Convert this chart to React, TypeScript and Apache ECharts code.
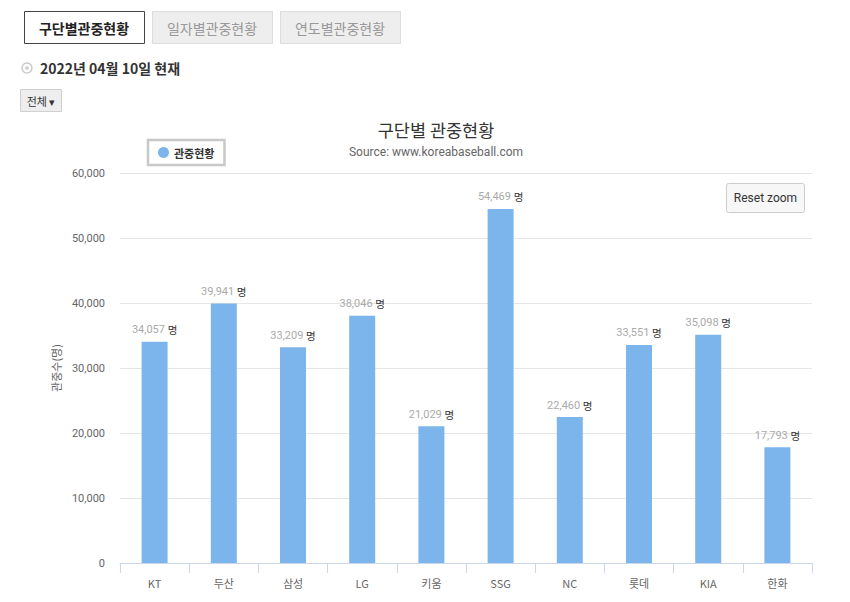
import React, { useEffect, useRef } from "react";
import * as echarts from "echarts";

const categories = ["KT", "두산", "삼성", "LG", "키움", "SSG", "NC", "롯데", "KIA", "한화"];
const attendance = [34057, 39941, 33209, 38046, 21029, 54469, 22460, 33551, 35098, 17793];
const yTicks = [0, 10000, 20000, 30000, 40000, 50000, 60000];
const tabs = ["구단별관중현황", "일자별관중현황", "연도별관중현황"];

const FONT = "'Noto Sans CJK KR', Roboto, sans-serif";

export default function App() {
  const ref = useRef<HTMLDivElement>(null);
  useEffect(() => {
    if (!ref.current) return;
    const chart = echarts.init(ref.current, undefined, { renderer: "svg" });
    const tabGraphics: any[] = tabs.map((t, i) => {
      const x = 24 + i * 128;
      const active = i === 0;
      return {
        type: "group",
        children: [
          {
            type: "rect",
            shape: { x: x + 0.5, y: 11.5, width: 120, height: 32 },
            style: { fill: active ? "#fff" : "#eeeeee", stroke: active ? "#444" : "#dddddd", lineWidth: 1 },
          },
          {
            type: "text",
            x: x + 60,
            y: 27.5,
            style: {
              text: t,
              fill: active ? "#222" : "#999",
              font: `${active ? "bold " : ""}14px ${FONT}`,
              align: "center",
              verticalAlign: "middle",
            },
          },
        ],
      };
    });
    chart.setOption({
      animation: false,
      textStyle: { fontFamily: FONT },
      title: {
        text: "구단별 관중현황",
        subtext: "Source: www.koreabaseball.com",
        left: 431,
        textAlign: "center",
        top: 116,
        itemGap: 8,
        textStyle: { fontSize: 17.5, fontWeight: "normal", color: "#333", fontFamily: FONT },
        subtextStyle: { fontSize: 12, color: "#666", fontFamily: "Roboto, sans-serif" },
      },
      legend: {
        show: true,
        left: 148,
        top: 140,
        padding: [7, 10, 7, 10],
        borderColor: "#c8c8c8",
        borderWidth: 2.5,
        icon: "circle",
        itemWidth: 11,
        itemHeight: 11,
        itemGap: 6,
        textStyle: { fontSize: 11, fontWeight: "bold", color: "#333", fontFamily: FONT },
        data: ["관중현황"],
      },
      grid: { left: 120, right: 38, top: 173, bottom: 39, containLabel: false },
      xAxis: {
        type: "category",
        data: categories,
        axisLine: { lineStyle: { color: "#ccd6eb" } },
        axisTick: { show: true, length: 10, lineStyle: { color: "#ccd6eb" } },
        axisLabel: { color: "#666", fontSize: 11, margin: 14, fontFamily: FONT },
      },
      yAxis: {
        type: "value",
        min: 0,
        max: 60000,
        interval: 10000,
        name: "관중수(명)",
        nameLocation: "middle",
        nameGap: 53,
        nameRotate: 90,
        nameTextStyle: { color: "#666", fontSize: 11, fontFamily: FONT },
        axisLabel: {
          color: "#666",
          fontSize: 11,
          margin: 15,
          fontFamily: "Roboto, sans-serif",
          formatter: (v: number) => (yTicks.includes(v) ? v.toLocaleString("en-US") : ""),
        },
        splitLine: { lineStyle: { color: "#e6e6e6" } },
        axisLine: { show: false },
        axisTick: { show: false },
      },
      series: [
        {
          name: "관중현황",
          type: "bar",
          data: attendance,
          barWidth: 26,
          itemStyle: { color: "#7cb5ec" },
          label: {
            show: true,
            position: "top",
            distance: 6,
            formatter: (p: any) => `{v|${Number(p.value).toLocaleString("en-US")}} {u|명}`,
            rich: {
              v: { color: "#aaa", fontSize: 11, fontFamily: "Roboto, sans-serif" },
              u: { color: "#333", fontSize: 10.5, fontFamily: FONT },
            },
          },
        },
      ],
      graphic: [
        ...tabGraphics,
        {
          type: "circle",
          shape: { cx: 27, cy: 68, r: 5 },
          style: { fill: "#fff", stroke: "#ccc", lineWidth: 1.5 },
        },
        {
          type: "circle",
          shape: { cx: 27, cy: 68, r: 1.8 },
          style: { fill: "#ccc" },
        },
        {
          type: "text",
          x: 40,
          y: 68,
          style: {
            text: "2022년 04월 10일 현재",
            fill: "#333",
            font: `bold 14px ${FONT}`,
            verticalAlign: "middle",
          },
        },
        {
          type: "rect",
          shape: { x: 20.5, y: 89.5, width: 41, height: 22 },
          style: { fill: "#eeeeee", stroke: "#d0d0d0", lineWidth: 1 },
        },
        {
          type: "text",
          x: 41,
          y: 100.5,
          style: {
            text: "전체 ▾",
            fill: "#333",
            font: `11px ${FONT}`,
            align: "center",
            verticalAlign: "middle",
          },
        },
        {
          type: "rect",
          shape: { x: 726.5, y: 183.5, width: 78, height: 29, r: 2 },
          style: { fill: "#f7f7f7", stroke: "#cccccc", lineWidth: 1 },
        },
        {
          type: "text",
          x: 765.5,
          y: 198,
          style: {
            text: "Reset zoom",
            fill: "#333",
            font: `12px Roboto, sans-serif`,
            align: "center",
            verticalAlign: "middle",
          },
        },
      ],
    });
    return () => chart.dispose();
  }, []);
  return (
    <div
      ref={ref}
      style={{ position: "fixed", left: 0, top: 0, width: 850, height: 602, background: "#fff" }}
    />
  );
}
